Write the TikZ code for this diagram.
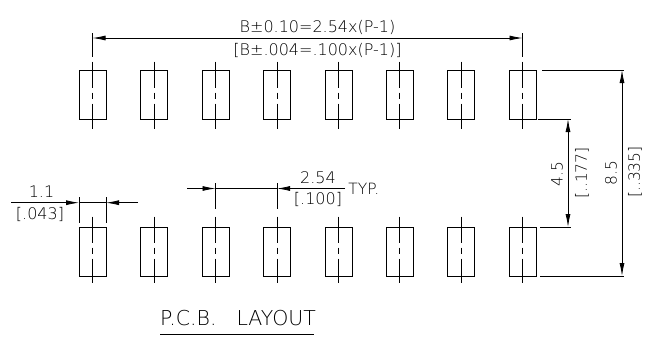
\documentclass[tikz,border=0pt]{standalone}
\usepackage{fontspec}
\setmainfont{DejaVu Sans ExtraLight}
\usetikzlibrary{arrows.meta}
\tikzset{
  pad/.style={draw,minimum width=27pt,minimum height=49pt,inner sep=0pt},
  cline/.style={dash pattern=on 26pt off 5pt on 6pt off 5pt on 26pt},
  dimtxt/.style={inner sep=0pt,font=\fontsize{16}{16}\selectfont},
  sidetxt/.style={inner sep=0pt,rotate=90,font=\fontsize{15.5}{15.5}\selectfont},
}
\begin{document}
\begin{tikzpicture}[x=1pt,y=-1pt,>={Latex[length=13pt,width=5pt]},line width=0.8pt]
\useasboundingbox (0,0) rectangle (652,351);
% pads and center lines
\foreach \n/\x in {1/92.5,2/154,3/215.5,4/277,5/338.5,6/399.5,7/461,8/522.5}{
\node[pad] (t\n) at (\x,94.5) {};
\node[pad] (b\n) at (\x,251.5) {};
\draw[cline] ([yshift=8pt]t\n.north)--([yshift=-10pt]t\n.south);
\draw[cline] ([yshift=10pt]b\n.north)--([yshift=-7pt]b\n.south);
}
% top dimension
\coordinate (ta) at (92.5,33); \coordinate (tb) at (92.5,57);
\coordinate (tc) at (522.5,33); \coordinate (td) at (522.5,57);
\draw (ta)--(tb); \draw (tc)--(td);
\coordinate (tl) at (92.5,38); \coordinate (tr) at (522.5,38);
\draw[<->] (tl)--(tr);
\node[dimtxt] (btxt) at (317.5,27.5) {B±0.10=2.54x(P-1)};
\node[dimtxt] (bin) at (317.5,50) {[B±.004=.100x(P-1)]};
% pad width
\coordinate (wa) at (79,197); \coordinate (wb) at (79,223);
\coordinate (wc) at (106,197); \coordinate (wd) at (106,223);
\draw (wa)--(wb); \draw (wc)--(wd);
\coordinate (wl) at (79,202.7); \coordinate (wr) at (106,202.7);
\coordinate (wll) at (11,202.7); \coordinate (wrr) at (138,202.7);
\draw[->] (wll)--(wl); \draw[->] (wrr)--(wr); \draw (wl)--(wr);
\node[dimtxt] (wtxt) at (41.5,192) {1.1};
\node[dimtxt] (win) at (40,214.5) {[.043]};
% pitch
\coordinate (pa) at (215.5,183); \coordinate (pb) at (215.5,209);
\coordinate (pc) at (277,183); \coordinate (pd) at (277,209);
\draw (pa)--(pb); \draw (pc)--(pd);
\coordinate (pl) at (215.5,188.5); \coordinate (pr) at (277,188.5);
\coordinate (pll) at (187,188.5); \coordinate (prr) at (345,188.5);
\draw[->] (pll)--(pl); \draw[->] (prr)--(pr); \draw (pl)--(pr);
\node[dimtxt] (ptxt) at (318,178) {2.54};
\node[dimtxt] (pin) at (318,199.5) {[.100]};
\node[dimtxt,anchor=west,font=\fontsize{15.5}{15.5}\selectfont] (typ) at (348,188.5) {TYP.};
% gaps on the right
\coordinate (ra) at (542,70); \coordinate (rb) at (624,70);
\coordinate (rc) at (538,119); \coordinate (rd) at (571,119);
\coordinate (re) at (540,227); \coordinate (rf) at (571,227);
\coordinate (rg) at (540,276); \coordinate (rh) at (624,276);
\draw (ra)--(rb); \draw (rc)--(rd); \draw (re)--(rf); \draw (rg)--(rh);
\coordinate (ga) at (568,119); \coordinate (gb) at (568,227);
\coordinate (gc) at (622,70); \coordinate (gd) at (622,276);
\draw[<->] (ga)--(gb); \draw[<->] (gc)--(gd);
\node[sidetxt] (gtxt) at (557,174) {4.5};
\node[sidetxt] (gin) at (582,173) {[..177]};
\node[sidetxt] (htxt) at (611,173) {8.5};
\node[sidetxt] (hin) at (635,172) {[..335]};
% title
\node[inner sep=0pt,font=\fontsize{20.5}{20.5}\selectfont] (title) at (238,318) {P.C.B.\hspace{20pt}LAYOUT};
\coordinate (ua) at (160,334); \coordinate (ub) at (314,334);
\draw (ua)--(ub);
\end{tikzpicture}
\end{document}
